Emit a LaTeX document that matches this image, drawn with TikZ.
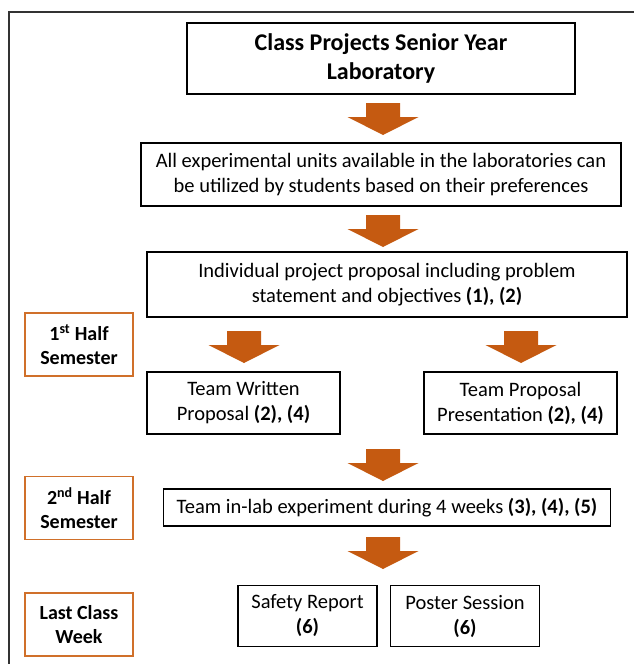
\documentclass[tikz,border=0pt]{standalone}
\usepackage{fontspec}
\setmainfont{Carlito}
\definecolor{arrowc}{HTML}{C55A11}
\definecolor{labc}{HTML}{D0702A}
\definecolor{framec}{HTML}{333333}
\begin{document}
\begin{tikzpicture}[x=1pt,y=-1pt,
  box/.style={draw=black, line width=1.6pt, align=center, inner sep=0pt,
    font=\fontsize{20.5}{25}\selectfont},
  titlebox/.style={box, font=\bfseries\fontsize{24}{29}\selectfont},
  labelbox/.style={draw=labc, line width=1.6pt, align=center, inner sep=0pt,
    minimum width=108pt, minimum height=63pt,
    font=\bfseries\fontsize{20}{24}\selectfont},
  pics/darrow/.style={code={
    \fill[arrowc] (-17,0) -- (17,0) -- (17,14) -- (35.5,14) -- (0,32)
      -- (-35.5,14) -- (-17,14) -- cycle;}}]
\useasboundingbox (0,0) rectangle (634,664);
% outer frame
\draw[framec, line width=2pt] (634,12) -- (9,12) -- (9,664);

\node[titlebox, minimum width=388pt, minimum height=71pt] (title) at (381,58.5)
  {Class Projects Senior Year\\Laboratory};
\node[box, minimum width=480pt, minimum height=63pt] (units) at (381,174.5)
  {All experimental units available in the laboratories can\\be utilized by students based on their preferences};
\node[box, minimum width=480pt, minimum height=65pt] (indiv) at (387,284.5)
  {Individual project proposal including problem\\statement and objectives \textbf{(1), (2)}};
\node[box, minimum width=193pt, minimum height=62pt] (written) at (243.5,403)
  {Team Written\\Proposal \textbf{(2), (4)}};
\node[box, minimum width=193pt, minimum height=62pt] (present) at (520.5,403)
  {Team Proposal\\Presentation \textbf{(2), (4)}};
\node[box, minimum width=447pt, minimum height=37pt] (inlab) at (387,507.5)
  {Team in-lab experiment during 4 weeks \textbf{(3), (4), (5)}};
\node[box, minimum width=139pt, minimum height=61pt] (safety) at (307.5,616)
  {Safety Report\\\textbf{(6)}};
\node[box, minimum width=149pt, minimum height=61pt] (poster) at (465,616)
  {Poster Session\\\textbf{(6)}};

\node[labelbox] (half1) at (79,344.5) {1\textsuperscript{st} Half\\Semester};
\node[labelbox] (half2) at (79,508) {2\textsuperscript{nd} Half\\Semester};
\node[labelbox] (last) at (79,624.5) {Last Class\\Week};

\pic at (383,103) {darrow};
\pic at (383,215) {darrow};
\pic at (244,331) {darrow};
\pic at (521,331) {darrow};
\pic at (383,449) {darrow};
\pic at (383,537) {darrow};
\end{tikzpicture}
\end{document}
